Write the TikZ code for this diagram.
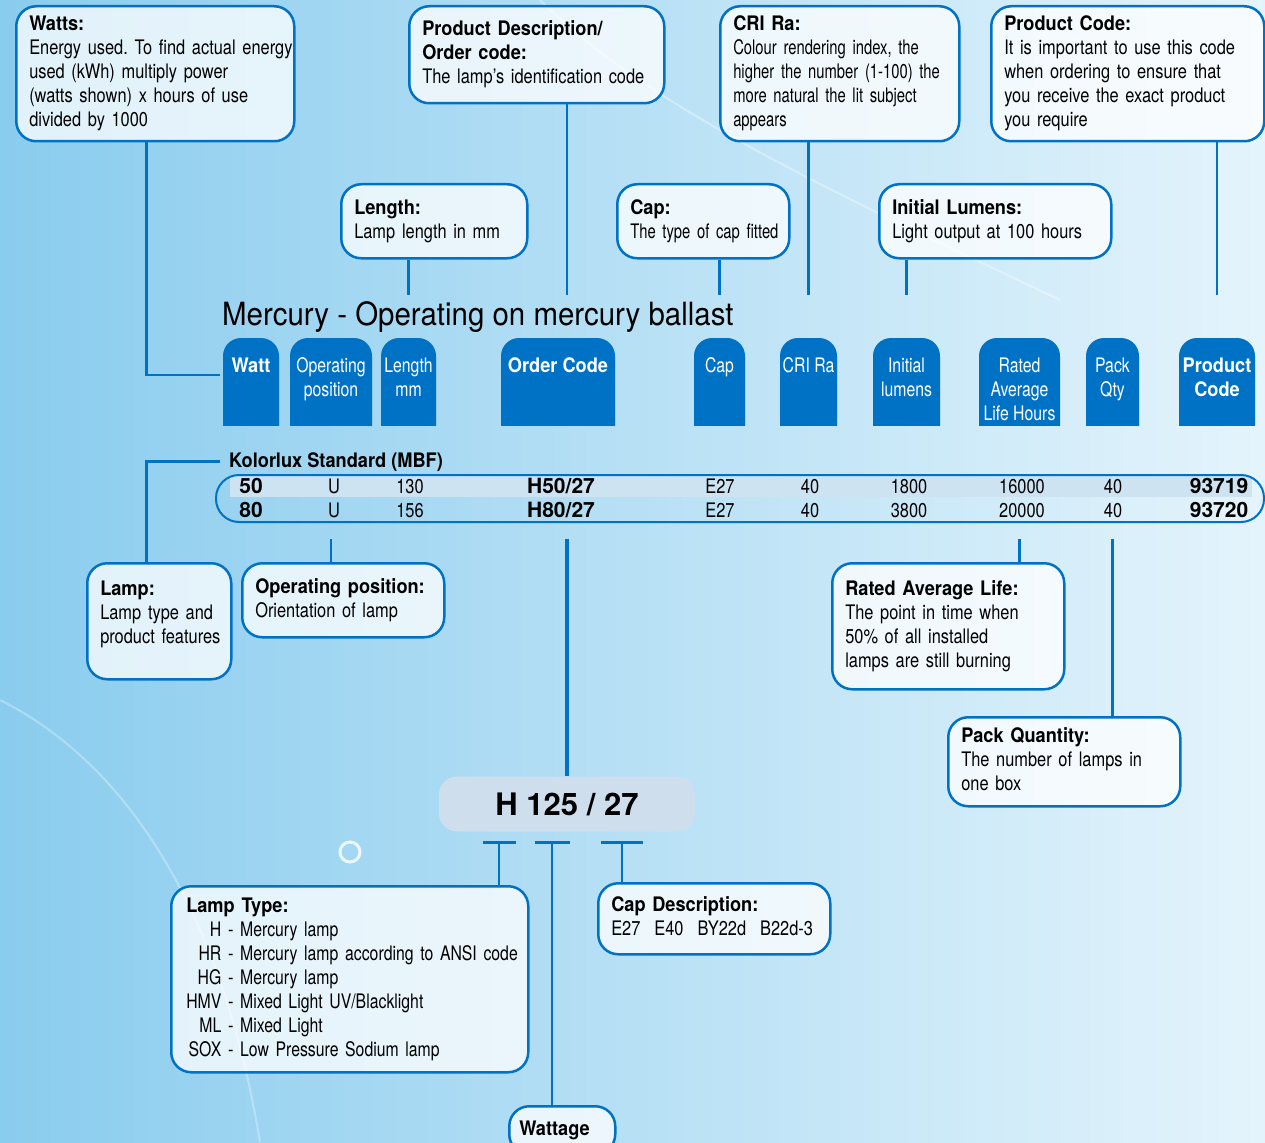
\documentclass[tikz,border=0pt]{standalone}
\usepackage{fontspec}
\setmainfont{TeX Gyre Heros}[FakeStretch=0.82]
\newfontfamily\headfont{TeX Gyre Heros}[FakeStretch=0.91]
\newfontfamily\narrowfont{TeX Gyre Heros}[FakeStretch=0.74]
\newfontfamily\tabfont{TeX Gyre Heros}[FakeStretch=0.79]
\newfontfamily\titlefont{TeX Gyre Heros}[FakeStretch=0.92]
\newfontfamily\widefont{TeX Gyre Heros}
\usetikzlibrary{positioning}
\frenchspacing

\definecolor{lampblue}{RGB}{0,114,198}
\definecolor{skyleft}{RGB}{138,204,238}
\definecolor{skyright}{RGB}{228,244,252}
\definecolor{rowband}{RGB}{205,227,242}
\definecolor{codegrey}{RGB}{207,222,236}

\newcommand{\bodysize}{\fontsize{20}{24}\selectfont}
\newcommand{\boxhead}[1]{{\headfont\bfseries #1}}
\newcommand{\boxlines}[1]{\begin{tabular}{@{}l@{}}#1\end{tabular}}
\newcommand{\tabbold}{\widefont\bfseries\fontsize{21}{24}\selectfont}

\tikzstyle{infobox} = [rectangle, rounded corners=20pt, draw=lampblue, line width=2.5pt, fill=white, fill opacity=0.75, text opacity=1, anchor=north west, inner xsep=13pt, inner ysep=0pt, align=left, font=\bodysize]
\tikzstyle{tablabel} = [anchor=north, inner xsep=0pt, inner ysep=19.5pt, align=center, text=white, font=\bodysize\tabfont]
\tikzstyle{cell} = [anchor=base, inner sep=0pt, font=\bodysize]
\tikzstyle{link} = [draw=lampblue, line width=2.5pt]

\begin{document}
\begin{tikzpicture}[x=1pt, y=-1pt]
    \useasboundingbox (0,0) rectangle (1265,1142);
    \fill[left color=skyleft, right color=skyright] (0,0) rectangle (1265,1142);
    % faint background streaks
    \draw[white, opacity=0.35, line width=2pt] (540,0) .. controls (650,110) and (850,200) .. (1060,300);
    \draw[white, opacity=0.3, line width=2pt] (0,700) .. controls (120,760) and (220,900) .. (260,1142);
    \draw[white, opacity=0.8, line width=3pt] (350,852) circle (10);

    % explanation boxes, top
    \node (watts) [infobox, text width=252pt, minimum height=135pt] at (15,5) {\boxlines{\boxhead{Watts:}\\Energy used. To find actual energy\\used (kWh) multiply power\\(watts shown) x hours of use\\divided by 1000}};
    \node (proddesc) [infobox, text width=229pt, minimum height=97pt] at (408,5) {\boxlines{\boxhead{Product Description/}\\\boxhead{Order code:}\\The lamp's identification code}};
    \node (cri) [infobox, text width=213pt, minimum height=135pt] at (719,5) {\boxlines{\boxhead{CRI Ra:}\\{\narrowfont Colour rendering index, the}\\{\narrowfont higher the number (1-100) the}\\{\narrowfont more natural the lit subject}\\{\narrowfont appears}}};
    \node (prodcode) [infobox, text width=247pt, minimum height=135pt] at (990,5) {\boxlines{\boxhead{Product Code:}\\It is important to use this code\\when ordering to ensure that\\you receive the exact product\\you require}};
    \node (length) [infobox, text width=160pt, minimum height=74pt] at (340,183) {\boxlines{\boxhead{Length:}\\Lamp length in mm}};
    \node (cap) [infobox, text width=146pt, minimum height=74pt] at (616,183) {\boxlines{\boxhead{Cap:}\\{\narrowfont The type of cap fitted}}};
    \node (lumens) [infobox, text width=206pt, minimum height=74pt] at (878,183) {\boxlines{\boxhead{Initial Lumens:}\\Light output at 100 hours}};

    \node (title) [anchor=base west, inner sep=0pt, font=\titlefont\fontsize{32}{36}\selectfont] at (222,325) {Mercury - Operating on mercury ballast};

    % column tabs
    \foreach \tabname/\xa/\xb/\tabtext in {
        watt/223/279/{\headfont\bfseries Watt},
        oppostab/290/372/{Operating\\position},
        lengthtab/381/436/{Length\\mm},
        ordertab/501/615/{\headfont\bfseries Order Code},
        captab/694/745/{Cap},
        critab/780/837/{CRI Ra},
        lumenstab/873/940/{Initial\\lumens},
        lifetab/979/1060/{Rated\\Average\\Life Hours},
        packtab/1086/1139/{Pack\\Qty},
        codetab/1179/1255/{\headfont\bfseries Product\\\headfont\bfseries Code}} {
        \begin{scope}
            \clip (\xa,338) rectangle (\xb,425);
            \fill[lampblue, rounded corners=18pt] (\xa,338) rectangle (\xb,470);
        \end{scope}
        \node (\tabname) [tablabel, minimum width=\xb-\xa] at ({(\xa+\xb)/2},338) {\tabtext};
    }

    % product rows
    \node (kolorlux) [anchor=base west, inner sep=0pt, font=\bodysize\headfont\bfseries] at (229,467) {Kolorlux Standard (MBF)};
    \fill[rowband] (230,476) rectangle (1252,497);
    \node (rows) [rectangle, rounded corners=23pt, draw=lampblue, line width=2pt, minimum width=1048pt, minimum height=47pt, anchor=north west, inner sep=0pt] at (215,474) {};
    \foreach \colx/\va/\vb [count=\i] in {
        251/{\tabbold 50}/{\tabbold 80}, 334/U/U, 410/130/156,
        561/{\tabbold H50/27}/{\tabbold H80/27}, 720/E27/E27, 810/40/40,
        909/1800/3800, 1022/16000/20000, 1113/40/40,
        1219/{\tabbold 93719}/{\tabbold 93720}} {
        \node (r1c\i) [cell] at (\colx,493) {\va};
        \node (r2c\i) [cell] at (\colx,517) {\vb};
    }

    % explanation boxes, bottom
    \node (lamp) [infobox, text width=118pt, minimum height=116pt] at (86,562) {\boxlines{\boxhead{Lamp:}\\Lamp type and\\product features\\[14pt]}};
    \node (oppos) [infobox, text width=176pt, minimum height=74pt] at (241,562) {\boxlines{\boxhead{Operating position:}\\Orientation of lamp}};
    \node (life) [infobox, text width=206pt, minimum height=126pt] at (831,562) {\boxlines{\boxhead{Rated Average Life:}\\The point in time when\\50\% of all installed\\lamps are still burning}};
    \node (pack) [infobox, text width=206pt, minimum height=89pt] at (947,716) {\boxlines{\boxhead{Pack Quantity:}\\The number of lamps in\\one box}};

    \node (h125) [rectangle, rounded corners=18pt, fill=codegrey, minimum width=256pt, minimum height=55pt, font=\widefont\bfseries\fontsize{31}{36}\selectfont] at (567,804) {H 125 / 27};
    \coordinate (typebar) at ([xshift=-68pt, yshift=-11pt]h125.south);
    \coordinate (wattbar) at ([xshift=-15pt, yshift=-11pt]h125.south);
    \coordinate (capbar) at ([xshift=55pt, yshift=-11pt]h125.south);

    \node (lamptype) [infobox, text width=327pt, minimum height=186pt, inner xsep=15pt] at (170,885) {\begin{tabular}{@{}r@{ - }l@{}}
        \multicolumn{2}{@{}l@{}}{\boxhead{Lamp Type:}}\\
        \tabfont H & \tabfont Mercury lamp\\
        \tabfont HR & \tabfont Mercury lamp according to ANSI code\\
        \tabfont HG & \tabfont Mercury lamp\\
        \tabfont HMV & \tabfont Mixed Light UV/Blacklight\\
        \tabfont ML & \tabfont Mixed Light\\
        \tabfont SOX & \tabfont Low Pressure Sodium lamp
    \end{tabular}};
    \node (capdesc) [infobox, text width=206pt, minimum height=71pt] at (597,882) {\boxlines{\boxhead{Cap Description:}\\E27\hspace{14pt}E40\hspace{14pt}BY22d\hspace{14pt}B22d-3}};
    \node (wattage) [infobox, text width=86pt, minimum height=48pt, inner xsep=10pt] at (508,1105) {\boxhead{Wattage}};

    % connectors, top
    \draw[link, shorten >=3pt] ([xshift=-9pt]watts.south) |- ([yshift=-10pt]watt.west);
    \draw[link, shorten >=43pt] (proddesc.south -| h125.north) -- (ordertab.north -| h125.north);
    \draw[link, shorten >=43pt] (critab.north |- cri.south) -- (critab.north);
    \draw[link, shorten >=43pt] (codetab.north |- prodcode.south) -- (codetab.north);
    \draw[link, shorten >=43pt] (lengthtab.north |- length.south) -- (lengthtab.north);
    \draw[link, shorten >=43pt] (captab.north |- cap.south) -- (captab.north);
    \draw[link, shorten >=43pt] (lumenstab.north |- lumens.south) -- (lumenstab.north);

    % connectors, bottom
    \draw[link] ([xshift=-9pt]kolorlux.west) -| ([xshift=-13pt]lamp.north);
    \draw[link, shorten <=16pt] (oppostab |- rows.south) -- (oppostab |- oppos.north);
    \draw[link, line width=4pt, shorten <=16pt] (h125 |- rows.south) -- (h125.north);
    \draw[link, shorten <=16pt] (lifetab |- rows.south) -- (lifetab |- life.north);
    \draw[link, shorten <=16pt] (packtab |- rows.south) -- (packtab |- pack.north);

    % code breakdown
    \draw[link] ([xshift=-16pt]typebar) -- ([xshift=17pt]typebar);
    \draw[link] ([xshift=-17pt]wattbar) -- ([xshift=18pt]wattbar);
    \draw[link] ([xshift=-21pt]capbar) -- ([xshift=21pt]capbar);
    \draw[link] (typebar) -- (typebar |- lamptype.north);
    \draw[link] (wattbar) -- (wattbar |- wattage.north);
    \draw[link] (capbar) -- (capbar |- capdesc.north);
\end{tikzpicture}
\end{document}
